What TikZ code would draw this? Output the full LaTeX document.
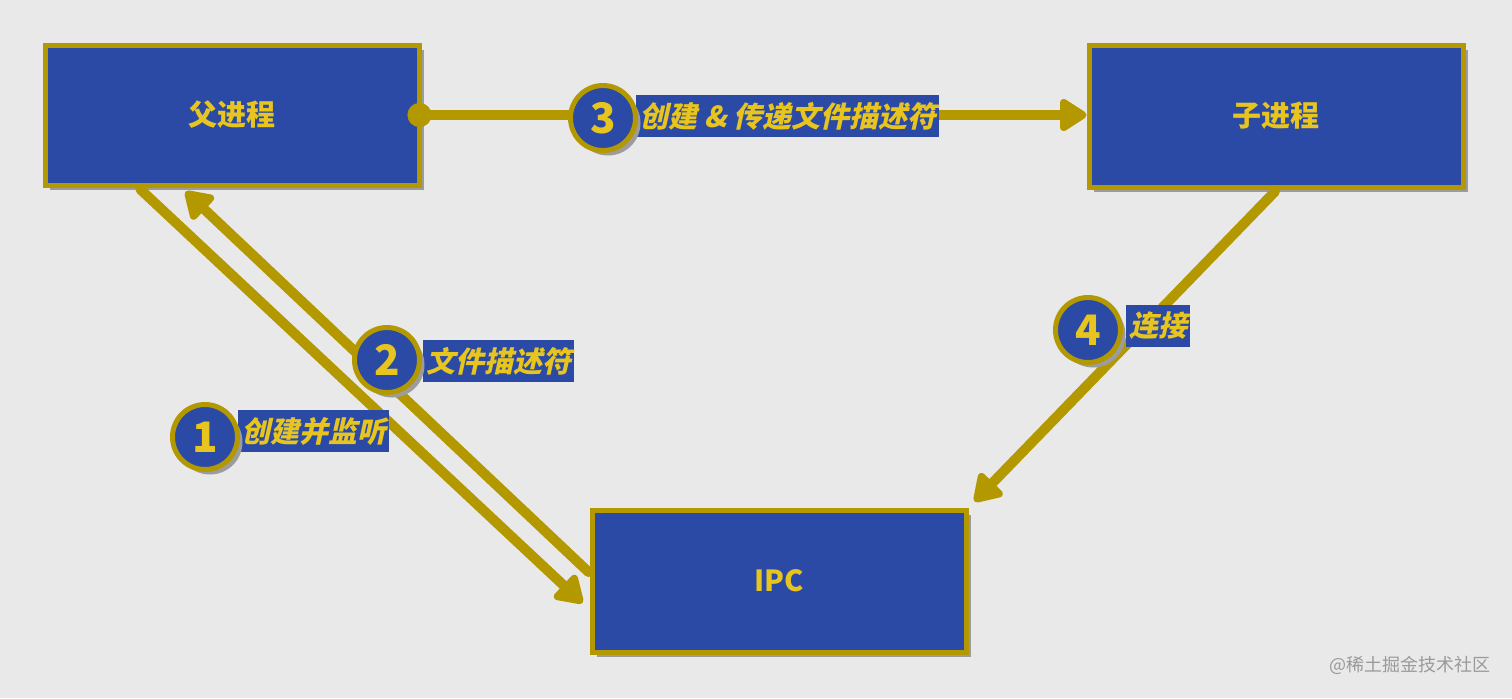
\documentclass[tikz,border=0pt]{standalone}
\usepackage{fontspec}
\setmainfont{Noto Sans CJK SC}
\newfontfamily\slfont{Noto Sans CJK SC}[FakeSlant=0.22]
\usetikzlibrary{arrows.meta,calc,shadows}
\definecolor{bg}{HTML}{E9E9E9}
\definecolor{boxblue}{HTML}{2A4AA5}
\definecolor{gold}{HTML}{B39800}
\definecolor{txt}{HTML}{E8C41E}
\definecolor{shade}{HTML}{9C9C9C}
\definecolor{wmgray}{HTML}{9A9A9A}
\tikzset{
  sh/.style={drop shadow={shadow xshift=2.5pt, shadow yshift=-2.5pt, fill=shade, opacity=1}},
  box/.style={sh, draw=gold, line width=2.5pt, fill=boxblue, minimum width=187pt, minimum height=70pt,
    inner sep=0pt, text=txt, font=\bfseries\fontsize{14.5}{16}\selectfont},
  badge/.style={sh, circle, draw=gold, line width=2.5pt, fill=boxblue, minimum size=32.5pt, inner sep=0pt,
    text=txt, font=\bfseries\fontsize{21}{22}\selectfont},
  lab/.style={fill=boxblue, text=txt, inner xsep=1.5pt, inner ysep=0pt, minimum height=21pt, anchor=west,
    font=\slfont\bfseries\fontsize{14.5}{16}\selectfont},
  conn/.style={draw=gold, line width=5pt, line cap=round, line join=round},
  head/.style={-{Triangle[length=15pt,width=18pt,round]}},
}
\begin{document}
\begin{tikzpicture}[x=0.5pt,y=-0.5pt]
\fill[bg] (0,0) rectangle (1512,698);
\useasboundingbox (0,0) rectangle (1512,698);

% boxes
\node[box] (parent) at (232,115) {父进程};
\node[box, minimum height=71pt] (child) at (1276,116) {子进程};
\node[box, minimum height=71pt] (ipc) at (779,581) {IPC};

% connectors
\draw[conn, head] ($(parent.south west)+(98,2)$) -- ($(ipc.west)+(-7,22)$);
\draw[conn, head] ($(ipc.west)+(-1,-9)$) -- ($(parent.south west)+(143,4)$);
\draw[conn, {Circle[length=12pt]}-{Triangle[length=15pt,width=18pt,round]}] ($(parent.east)+(-14,0)$) -- (parent.east -| child.west);
\draw[conn, head] ($(child.south)+(-1,2)$) -- ($(ipc.north east)+(6,-6)$);

% labels
\node[lab] (l1) at (238,431) {创建并监听};
\node[lab] (l2) at (423,361) {文件描述符};
\node[lab] (l3) at (636,116) {创建 \& 传递文件描述符};
\node[lab] (l4) at (1126,326) {连接};

% badges
\node[badge] (c1) at (205,437) {1};
\node[badge] (c2) at (387,360) {2};
\node[badge] (c3) at (603,118) {3};
\node[badge] (c4) at (1088,330) {4};

% watermark
\node[text=wmgray, font=\fontsize{9}{10}\selectfont] (wm) at (1410,665) {@稀土掘金技术社区};
\end{tikzpicture}
\end{document}
